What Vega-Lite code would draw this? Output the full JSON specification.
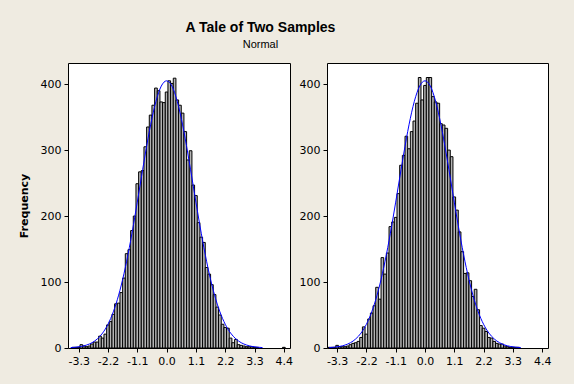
{
  "$schema": "https://vega.github.io/schema/vega-lite/v6.json",
  "background": "#EFEBE1",
  "autosize": {"type": "pad"},
  "padding": {"left": 17, "top": 20, "right": 22, "bottom": 17},
  "title": {
    "text": "A Tale of Two Samples",
    "subtitle": "Normal",
    "font": "Liberation Sans",
    "fontSize": 14,
    "fontWeight": "bold",
    "color": "black",
    "subtitleFont": "Liberation Sans",
    "subtitleFontSize": 11,
    "subtitleColor": "black",
    "subtitlePadding": 4,
    "anchor": "middle",
    "dx": -24,
    "offset": 13
  },
  "datasets": {
    "A": [
      {"a": -3.55, "b": -3.45, "n": 1}, {"a": -3.45, "b": -3.35, "n": 1}, {"a": -3.35, "b": -3.25, "n": 1},
      {"a": -3.25, "b": -3.15, "n": 5}, {"a": -3.15, "b": -3.05, "n": 3}, {"a": -3.05, "b": -2.95, "n": 2},
      {"a": -2.95, "b": -2.85, "n": 3}, {"a": -2.85, "b": -2.75, "n": 6}, {"a": -2.75, "b": -2.65, "n": 9},
      {"a": -2.65, "b": -2.55, "n": 9}, {"a": -2.55, "b": -2.45, "n": 18}, {"a": -2.45, "b": -2.35, "n": 15},
      {"a": -2.35, "b": -2.25, "n": 21}, {"a": -2.25, "b": -2.15, "n": 35}, {"a": -2.15, "b": -2.05, "n": 40},
      {"a": -2.05, "b": -1.95, "n": 51}, {"a": -1.95, "b": -1.85, "n": 67}, {"a": -1.85, "b": -1.75, "n": 68},
      {"a": -1.75, "b": -1.65, "n": 84}, {"a": -1.65, "b": -1.55, "n": 106}, {"a": -1.55, "b": -1.45, "n": 143},
      {"a": -1.45, "b": -1.35, "n": 149}, {"a": -1.35, "b": -1.25, "n": 178}, {"a": -1.25, "b": -1.15, "n": 200},
      {"a": -1.15, "b": -1.05, "n": 249}, {"a": -1.05, "b": -0.95, "n": 267}, {"a": -0.95, "b": -0.85, "n": 269},
      {"a": -0.85, "b": -0.75, "n": 305}, {"a": -0.75, "b": -0.65, "n": 335}, {"a": -0.65, "b": -0.55, "n": 353},
      {"a": -0.55, "b": -0.45, "n": 368}, {"a": -0.45, "b": -0.35, "n": 394}, {"a": -0.35, "b": -0.25, "n": 390},
      {"a": -0.25, "b": -0.15, "n": 373}, {"a": -0.15, "b": -0.05, "n": 372}, {"a": -0.05, "b": 0.05, "n": 388},
      {"a": 0.05, "b": 0.15, "n": 405}, {"a": 0.15, "b": 0.25, "n": 401}, {"a": 0.25, "b": 0.35, "n": 409},
      {"a": 0.35, "b": 0.45, "n": 376}, {"a": 0.45, "b": 0.55, "n": 368}, {"a": 0.55, "b": 0.65, "n": 356},
      {"a": 0.65, "b": 0.75, "n": 328}, {"a": 0.75, "b": 0.85, "n": 285}, {"a": 0.85, "b": 0.95, "n": 299},
      {"a": 0.95, "b": 1.05, "n": 247}, {"a": 1.05, "b": 1.15, "n": 231}, {"a": 1.15, "b": 1.25, "n": 190},
      {"a": 1.25, "b": 1.35, "n": 168}, {"a": 1.35, "b": 1.45, "n": 160}, {"a": 1.45, "b": 1.55, "n": 122},
      {"a": 1.55, "b": 1.65, "n": 112}, {"a": 1.65, "b": 1.75, "n": 96}, {"a": 1.75, "b": 1.85, "n": 81},
      {"a": 1.85, "b": 1.95, "n": 62}, {"a": 1.95, "b": 2.05, "n": 50}, {"a": 2.05, "b": 2.15, "n": 36},
      {"a": 2.15, "b": 2.25, "n": 31}, {"a": 2.25, "b": 2.35, "n": 30}, {"a": 2.35, "b": 2.45, "n": 15},
      {"a": 2.45, "b": 2.55, "n": 8}, {"a": 2.55, "b": 2.65, "n": 13}, {"a": 2.65, "b": 2.75, "n": 5},
      {"a": 2.75, "b": 2.85, "n": 4}, {"a": 2.85, "b": 2.95, "n": 3}, {"a": 2.95, "b": 3.05, "n": 2},
      {"a": 3.05, "b": 3.15, "n": 2}, {"a": 3.15, "b": 3.25, "n": 2}, {"a": 3.25, "b": 3.35, "n": 1},
      {"a": 3.35, "b": 3.45, "n": 1}, {"a": 4.35, "b": 4.45, "n": 1}
    ],
    "B": [
      {"a": -3.65, "b": -3.55, "n": 1}, {"a": -3.55, "b": -3.45, "n": 1}, {"a": -3.45, "b": -3.35, "n": 1},
      {"a": -3.35, "b": -3.25, "n": 4}, {"a": -3.25, "b": -3.15, "n": 2}, {"a": -3.15, "b": -3.05, "n": 2},
      {"a": -3.05, "b": -2.95, "n": 2}, {"a": -2.95, "b": -2.85, "n": 3}, {"a": -2.85, "b": -2.75, "n": 5},
      {"a": -2.75, "b": -2.65, "n": 7}, {"a": -2.65, "b": -2.55, "n": 8}, {"a": -2.55, "b": -2.45, "n": 10},
      {"a": -2.45, "b": -2.35, "n": 16}, {"a": -2.35, "b": -2.25, "n": 32}, {"a": -2.25, "b": -2.15, "n": 21},
      {"a": -2.15, "b": -2.05, "n": 44}, {"a": -2.05, "b": -1.95, "n": 53}, {"a": -1.95, "b": -1.85, "n": 64},
      {"a": -1.85, "b": -1.75, "n": 92}, {"a": -1.75, "b": -1.65, "n": 74}, {"a": -1.65, "b": -1.55, "n": 137},
      {"a": -1.55, "b": -1.45, "n": 112}, {"a": -1.45, "b": -1.35, "n": 144}, {"a": -1.35, "b": -1.25, "n": 184},
      {"a": -1.25, "b": -1.15, "n": 191}, {"a": -1.15, "b": -1.05, "n": 198}, {"a": -1.05, "b": -0.95, "n": 234},
      {"a": -0.95, "b": -0.85, "n": 277}, {"a": -0.85, "b": -0.75, "n": 292}, {"a": -0.75, "b": -0.65, "n": 321},
      {"a": -0.65, "b": -0.55, "n": 302}, {"a": -0.55, "b": -0.45, "n": 328}, {"a": -0.45, "b": -0.35, "n": 344},
      {"a": -0.35, "b": -0.25, "n": 371}, {"a": -0.25, "b": -0.15, "n": 410}, {"a": -0.15, "b": -0.05, "n": 376},
      {"a": -0.05, "b": 0.05, "n": 398}, {"a": 0.05, "b": 0.15, "n": 410}, {"a": 0.15, "b": 0.25, "n": 410},
      {"a": 0.25, "b": 0.35, "n": 381}, {"a": 0.35, "b": 0.45, "n": 373}, {"a": 0.45, "b": 0.55, "n": 371},
      {"a": 0.55, "b": 0.65, "n": 340}, {"a": 0.65, "b": 0.75, "n": 338}, {"a": 0.75, "b": 0.85, "n": 333},
      {"a": 0.85, "b": 0.95, "n": 300}, {"a": 0.95, "b": 1.05, "n": 290}, {"a": 1.05, "b": 1.15, "n": 229},
      {"a": 1.15, "b": 1.25, "n": 209}, {"a": 1.25, "b": 1.35, "n": 176}, {"a": 1.35, "b": 1.45, "n": 146},
      {"a": 1.45, "b": 1.55, "n": 113}, {"a": 1.55, "b": 1.65, "n": 114}, {"a": 1.65, "b": 1.75, "n": 102},
      {"a": 1.75, "b": 1.85, "n": 78}, {"a": 1.85, "b": 1.95, "n": 89}, {"a": 1.95, "b": 2.05, "n": 58},
      {"a": 2.05, "b": 2.15, "n": 34}, {"a": 2.15, "b": 2.25, "n": 30}, {"a": 2.25, "b": 2.35, "n": 25},
      {"a": 2.35, "b": 2.45, "n": 16}, {"a": 2.45, "b": 2.55, "n": 15}, {"a": 2.55, "b": 2.65, "n": 10},
      {"a": 2.65, "b": 2.75, "n": 7}, {"a": 2.75, "b": 2.85, "n": 6}, {"a": 2.85, "b": 2.95, "n": 6},
      {"a": 2.95, "b": 3.05, "n": 3}, {"a": 3.05, "b": 3.15, "n": 2}, {"a": 3.15, "b": 3.25, "n": 1},
      {"a": 3.25, "b": 3.35, "n": 1}, {"a": 3.35, "b": 3.45, "n": 1}, {"a": 3.45, "b": 3.55, "n": 1}
    ],
    "curve": [
      {"a": -3.6, "n": 0.6}, {"a": -3.4, "n": 1.3}, {"a": -3.2, "n": 2.4}, {"a": -3.0, "n": 4.5},
      {"a": -2.8, "n": 8.0}, {"a": -2.6, "n": 13.8}, {"a": -2.4, "n": 22.7}, {"a": -2.2, "n": 36.0},
      {"a": -2.0, "n": 54.8}, {"a": -1.8, "n": 80.1}, {"a": -1.6, "n": 112.6}, {"a": -1.4, "n": 152.0},
      {"a": -1.2, "n": 197.1}, {"a": -1.0, "n": 245.6}, {"a": -0.8, "n": 294.1}, {"a": -0.6, "n": 338.3},
      {"a": -0.4, "n": 373.9}, {"a": -0.2, "n": 397.0}, {"a": 0.0, "n": 405.0}, {"a": 0.2, "n": 397.0},
      {"a": 0.4, "n": 373.9}, {"a": 0.6, "n": 338.3}, {"a": 0.8, "n": 294.1}, {"a": 1.0, "n": 245.6},
      {"a": 1.2, "n": 197.1}, {"a": 1.4, "n": 152.0}, {"a": 1.6, "n": 112.6}, {"a": 1.8, "n": 80.1},
      {"a": 2.0, "n": 54.8}, {"a": 2.2, "n": 36.0}, {"a": 2.4, "n": 22.7}, {"a": 2.6, "n": 13.8},
      {"a": 2.8, "n": 8.0}, {"a": 3.0, "n": 4.5}, {"a": 3.2, "n": 2.4}, {"a": 3.4, "n": 1.3},
      {"a": 3.6, "n": 0.6}
    ]
  },
  "bounds": "flush",
  "spacing": 37,
  "hconcat": [
    {
      "width": 222,
      "height": 285,
      "encoding": {
        "x": {"field": "a", "type": "quantitative", "scale": {"domain": [-3.7, 4.63], "nice": false, "zero": false},
              "axis": {"values": [-3.3, -2.2, -1.1, 0, 1.1, 2.2, 3.3, 4.4], "title": null, "labelOverlap": false, "labelFlush": false,
                       "labelExpr": "replace(format(datum.value, '.1f'), '\u2212', '-')"}},
        "y": {"field": "n", "type": "quantitative", "scale": {"domain": [0, 432], "nice": false},
              "axis": {"values": [0, 100, 200, 300, 400], "title": "Frequency", "titleX": -44, "titleBaseline": "middle", "labelOverlap": false}}
      },
      "layer": [
        {
          "data": {"name": "A"},
          "mark": {"type": "bar", "fill": "#B4B4B4", "stroke": "black", "strokeWidth": 1},
          "encoding": {"x2": {"field": "b"}, "y2": {"datum": 0}}
        },
        {
          "data": {"name": "curve"},
          "mark": {"type": "line", "color": "#0000FF", "strokeWidth": 1, "interpolate": "monotone"},
          "encoding": {}
        }
      ]
    },
    {
      "width": 221,
      "height": 285,
      "encoding": {
        "x": {"field": "a", "type": "quantitative", "scale": {"domain": [-3.68, 4.62], "nice": false, "zero": false},
              "axis": {"values": [-3.3, -2.2, -1.1, 0, 1.1, 2.2, 3.3, 4.4], "title": null, "labelOverlap": false, "labelFlush": false,
                       "labelExpr": "replace(format(datum.value, '.1f'), '\u2212', '-')"}},
        "y": {"field": "n", "type": "quantitative", "scale": {"domain": [0, 432], "nice": false},
              "axis": {"values": [0, 100, 200, 300, 400], "title": null, "labelOverlap": false}}
      },
      "layer": [
        {
          "data": {"name": "B"},
          "mark": {"type": "bar", "fill": "#B4B4B4", "stroke": "black", "strokeWidth": 1},
          "encoding": {"x2": {"field": "b"}, "y2": {"datum": 0}}
        },
        {
          "data": {"name": "curve"},
          "mark": {"type": "line", "color": "#0000FF", "strokeWidth": 1, "interpolate": "monotone"},
          "encoding": {}
        }
      ]
    }
  ],
  "config": {
    "view": {"stroke": "black", "strokeWidth": 1, "fill": "white"},
    "axis": {
      "labelFont": "DejaVu Sans",
      "labelFontSize": 11,
      "labelColor": "black",
      "labelOverlap": false,
      "tickColor": "black",
      "tickSize": 4,
      "labelPadding": 3,
      "domain": false,
      "grid": false,
      "titleFont": "DejaVu Sans",
      "titleFontSize": 11,
      "titleFontWeight": "bold",
      "titleColor": "black"
    }
  }
}
